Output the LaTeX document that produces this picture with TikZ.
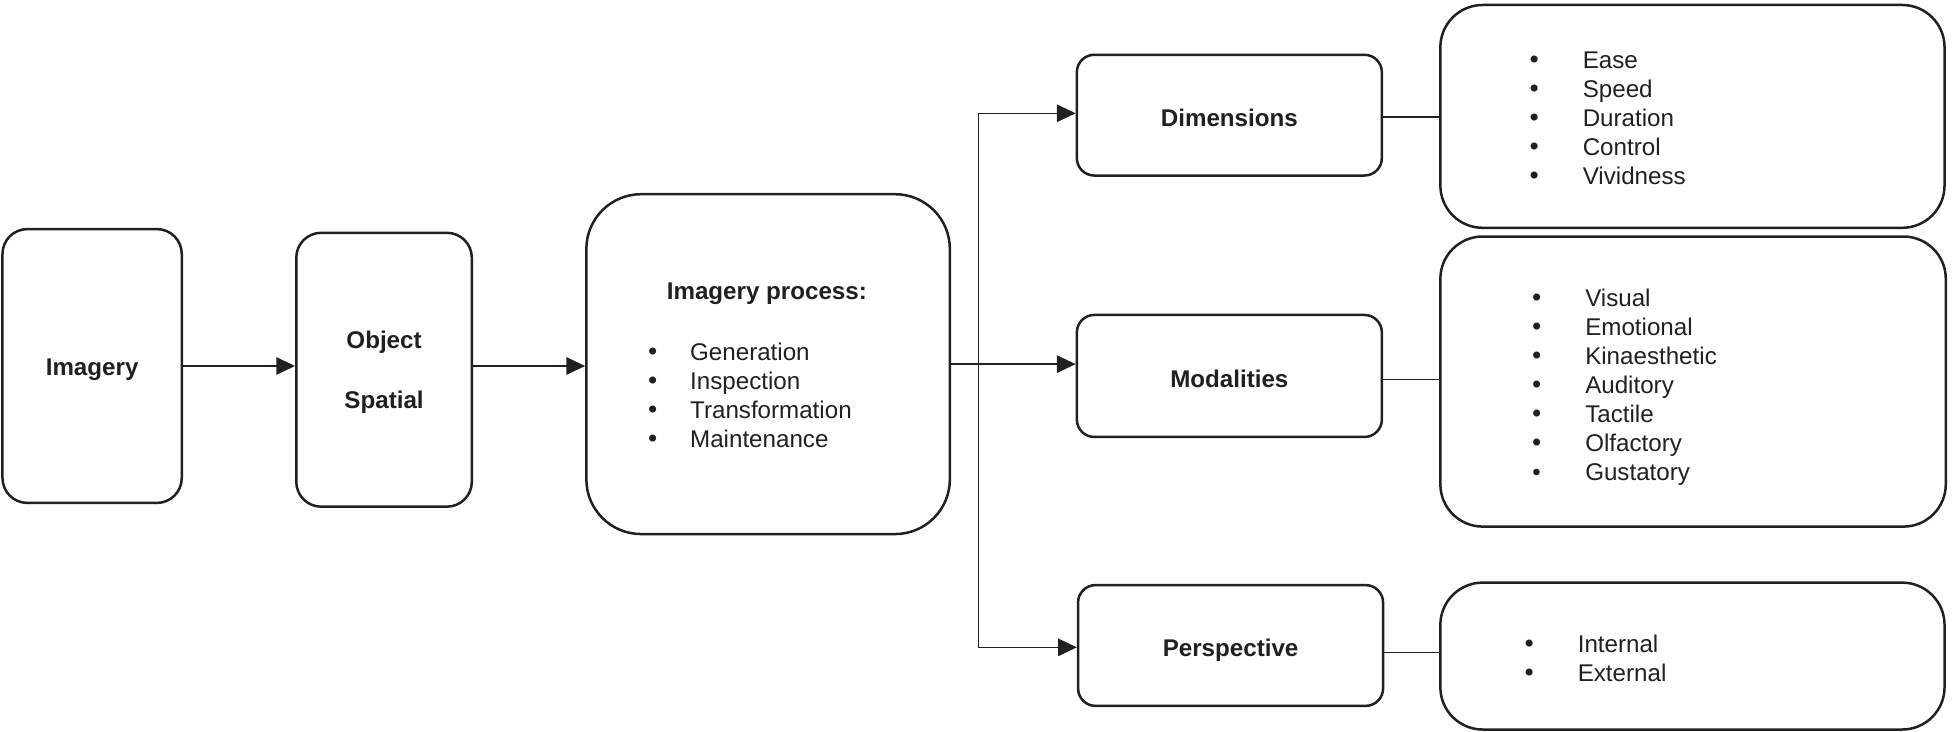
\documentclass[tikz,border=0pt]{standalone}
\usepackage{fontspec}
\setmainfont{Liberation Sans}
\newfontfamily\bulfont{DejaVu Sans}
\usetikzlibrary{arrows.meta}
\definecolor{ink}{RGB}{35,31,32}
\newcommand\mybul{\hspace{1.7pt}\makebox[0pt]{{\bulfont •}}}
\newcommand\mysmallbul{\hspace{1.7pt}\makebox[0pt]{\textbullet}}
\begin{document}
\begin{tikzpicture}[x=0.5pt,y=-0.5pt,
  font=\fontsize{9.7}{11.65}\selectfont, every node/.style={text=ink},
  box/.style={draw=ink, line width=1pt, inner sep=0pt},
  conn/.style={draw=ink, line width=0.55pt},
  arr/.style={conn, -{Triangle[length=7.5pt,width=7pt]}},
  lbl/.style={font=\fontsize{9.7}{11.65}\selectfont\bfseries, align=center}]
\useasboundingbox (0,0) rectangle (1568,588);
% boxes
\node[box, rounded corners=10pt, minimum width=72pt, minimum height=110pt] (img) at (74,294) {};
\node[box, rounded corners=10pt, minimum width=70.5pt, minimum height=110pt] (obj) at (308.5,297) {};
\node[box, rounded corners=22pt, minimum width=146pt, minimum height=136.5pt] (proc) at (617,292.5) {};
\node[box, rounded corners=7pt, minimum width=122.5pt, minimum height=48.5pt] (dim) at (987.5,92.5) {};
\node[box, rounded corners=7pt, minimum width=122.5pt, minimum height=49pt] (mod) at (987.5,302) {};
\node[box, rounded corners=7pt, minimum width=122.5pt, minimum height=48.5pt] (per) at (988.5,518.5) {};
\node[box, rounded corners=17pt, minimum width=202.5pt, minimum height=89.5pt] (dimL) at (1359.5,93.5) {};
\node[box, rounded corners=17pt, minimum width=203pt, minimum height=116.5pt] (modL) at (1360,306.5) {};
\node[box, rounded corners=17pt, minimum width=202.5pt, minimum height=59pt] (perL) at (1359.5,527) {};
% labels
\node[lbl] (imgT) at ([yshift=-1.5pt]img.center) {Imagery};
\node[lbl] (objT) at ([yshift=-1pt]obj.center) {Object\\[12.35pt]Spatial};
\node[lbl] (dimT) at ([yshift=-1pt]dim.center) {Dimensions};
\node[lbl] (modT) at ([yshift=-1pt]mod.center) {Modalities};
\node[lbl] (perT) at ([yshift=-2pt]per.center) {Perspective};
\node[lbl] (procT) at (616,236) {Imagery process:};
% lists
\node[inner sep=0pt, anchor=base west] (procL) at (520.6,289.5) {\begin{tabular}[t]{@{}p{16.7pt}@{}l@{}}
\mybul & Generation\\ \mybul & Inspection\\ \mybul & Transformation\\ \mybul & Maintenance\end{tabular}};
\node[inner sep=0pt, anchor=base west] (dimLT) at (1228.6,55) {\begin{tabular}[t]{@{}p{21.2pt}@{}l@{}}
\mybul & Ease\\ \mybul & Speed\\ \mybul & Duration\\ \mybul & Control\\ \mybul & Vividness\end{tabular}};
\node[inner sep=0pt, anchor=base west] (modLT) at (1230.6,246) {\begin{tabular}[t]{@{}p{21.2pt}@{}l@{}}
\mybul & Visual\\ \mybul & Emotional\\ \mybul & Kinaesthetic\\ \mybul & Auditory\\ \mybul & Tactile\\ \mybul & Olfactory\\ \mysmallbul & Gustatory\end{tabular}};
\node[inner sep=0pt, anchor=base west] (perLT) at (1224.6,524) {\begin{tabular}[t]{@{}p{21.2pt}@{}l@{}}
\mybul & Internal\\ \mybul & External\end{tabular}};
% connectors
\coordinate (tt) at (786,91);
\coordinate (tb) at (786,520);
\draw[arr] (img.east) -- (img.east -| obj.west);
\draw[arr] ([yshift=1.5pt]obj.east) -- ([yshift=1.5pt]obj.east -| proc.west);
\draw[arr] (proc.east) -- (proc.east -| mod.west);
\draw[conn, {Triangle[length=7.5pt,width=7pt]}-{Triangle[length=7.5pt,width=7pt]}] (tt -| dim.west) -- (tt) -- (tb) -- (tb -| per.west);
\draw[conn] ([yshift=-0.75pt]dim.east) -- ([yshift=-0.75pt]dim.east -| dimL.west);
\draw[conn] ([yshift=-1.5pt]mod.east) -- ([yshift=-1.5pt]mod.east -| modL.west);
\draw[conn] ([yshift=-2.75pt]per.east) -- ([yshift=-2.75pt]per.east -| perL.west);
\end{tikzpicture}
\end{document}
